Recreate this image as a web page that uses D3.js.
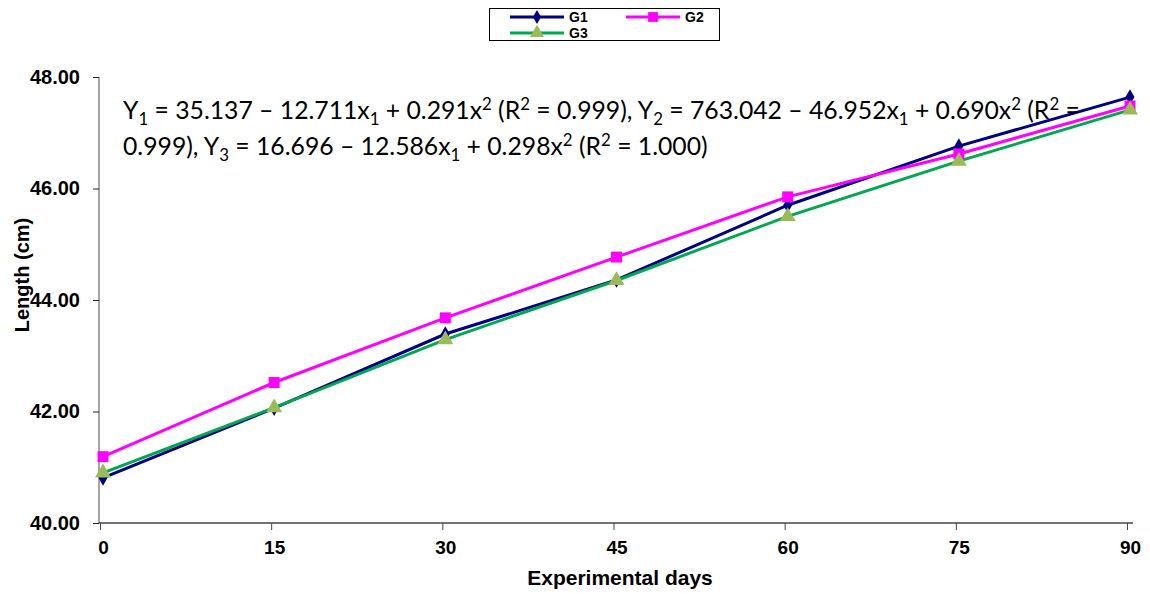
<!DOCTYPE html>
<html>
<head>
<meta charset="utf-8">
<script src="https://cdn.jsdelivr.net/npm/d3@7"></script>
<style>
  body { margin: 0; background: #fff; }
  svg { display: block; }
</style>
</head>
<body>
<svg id="chart"></svg>
<script>
const width = 1150;
const height = 594;

const days = [0, 15, 30, 45, 60, 75, 90];
const g1 = [40.81, 42.06, 43.39, 44.36, 45.70, 46.76, 47.64];
const g2 = [41.19, 42.52, 43.68, 44.77, 45.85, 46.62, 47.48];
const g3 = [40.90, 42.07, 43.29, 44.35, 45.50, 46.49, 47.41];
const seriesNames = ['G1', 'G2', 'G3'];
const yTicks = [40, 42, 44, 46, 48];

const series = [
  {name: seriesNames[0], values: g1, color: '#000080', marker: d3.symbolDiamond, size: 70, mcolor: '#000080'},
  {name: seriesNames[1], values: g2, color: '#FF00FF', marker: d3.symbolSquare, size: 120, mcolor: '#FF00FF'},
  {name: seriesNames[2], values: g3, color: '#00A650', marker: d3.symbolTriangle, size: 110, mcolor: '#9BBB59'}
];

const axisFont = '"Liberation Sans", Arial, sans-serif';
const svg = d3.select('#chart').attr('width', width).attr('height', height);

const x = d3.scaleLinear().domain([0, 90]).range([103, 1130]);
const y = d3.scaleLinear().domain([40, 48]).range([523, 77]);

// axes
const yAxis = svg.append('g').attr('transform', 'translate(99,0)')
  .call(d3.axisLeft(y).tickValues(yTicks).tickSize(6).tickFormat(d3.format('.2f')));
yAxis.select('.domain').attr('d', `M0,${y(48)}V${y(40)}`).attr('stroke', '#888').attr('stroke-width', 1.5);
yAxis.selectAll('.tick line').attr('stroke', '#222');
yAxis.selectAll('text')
  .attr('x', -19)
  .style('font-family', axisFont)
  .style('font-weight', 'bold')
  .style('font-size', '20px')
  .attr('fill', '#000');

const xAxis = svg.append('g').attr('transform', `translate(0,${y(40)})`)
  .call(d3.axisBottom(x).tickValues(days).tickSize(7).tickFormat(d3.format('d')));
xAxis.select('.domain').attr('d', 'M99,0H1133').attr('stroke', '#444').attr('stroke-width', 1.5);
xAxis.selectAll('.tick line').attr('transform', 'translate(-3,0)').attr('stroke', '#444');
xAxis.selectAll('text')
  .attr('y', 18)
  .style('font-family', axisFont)
  .style('font-weight', 'bold')
  .style('font-size', '19px')
  .attr('fill', '#000');

svg.append('text')
  .attr('x', 620).attr('y', 585)
  .attr('text-anchor', 'middle')
  .style('font-family', axisFont)
  .style('font-weight', 'bold')
  .style('font-size', '21px')
  .text('Experimental days');

svg.append('text')
  .attr('transform', 'translate(29,275) rotate(-90)')
  .attr('text-anchor', 'middle')
  .style('font-family', axisFont)
  .style('font-weight', 'bold')
  .style('font-size', '20px')
  .text('Length (cm)');

// lines
const line = d3.line().x((d, i) => x(days[i])).y(d => y(d));

series.forEach(s => {
  svg.append('path')
    .datum(s.values)
    .attr('fill', 'none')
    .attr('stroke', s.color)
    .attr('stroke-width', 3)
    .attr('d', line);
});

series.forEach(s => {
  svg.append('g').selectAll('path')
    .data(s.values)
    .enter()
    .append('path')
    .attr('transform', (d, i) => `translate(${x(days[i])},${y(d)})`)
    .attr('d', d3.symbol().type(s.marker).size(s.size))
    .attr('fill', s.mcolor);
});

// equation text
const eq = svg.append('g')
  .style('font-family', 'Lato, "Open Sans", sans-serif')
  .style('font-size', '22px')
  .attr('fill', '#000');

function addLine(yPos, parts) {
  const t = eq.append('text').attr('x', 123).attr('y', yPos);
  let back = 0;
  parts.forEach(p => {
    const span = t.append('tspan').text(p[0]);
    let dy = back;
    back = 0;
    if (p[1] === 'sub') { dy += 6; back = -6; span.style('font-size', '0.68em'); }
    if (p[1] === 'sup') { dy -= 9; back = 9; span.style('font-size', '0.68em'); }
    if (dy) span.attr('dy', dy);
  });
  return t;
}

const l1 = addLine(119, [
  ['Y'], ['1', 'sub'], [' = 35.137 \u2013 12.711x'], ['1', 'sub'], [' + 0.291x'], ['2', 'sup'],
  [' (R'], ['2', 'sup'], [' = 0.999), Y'], ['2', 'sub'], [' = 763.042 \u2013 46.952x'], ['1', 'sub'],
  [' + 0.690x'], ['2', 'sup'], [' (R'], ['2', 'sup'], [' =']
]);
addLine(155, [
  ['0.999), Y'], ['3', 'sub'], [' = 16.696 \u2013 12.586x'], ['1', 'sub'], [' + 0.298x'], ['2', 'sup'],
  [' (R'], ['2', 'sup'], [' = 1.000)']
]);
// fit the first line to its width in the picture
const w1 = l1.node().getComputedTextLength();
eq.style('font-size', (22 * 957 / w1).toFixed(2) + 'px');

// legend
const legend = svg.append('g');
legend.append('rect')
  .attr('x', 489.5).attr('y', 8.5).attr('width', 230).attr('height', 32)
  .attr('fill', '#fff').attr('stroke', '#000').attr('stroke-width', 1);

const legendPos = [[510, 17], [626, 17], [510, 33]];
series.forEach((s, i) => {
  const [lx, ly] = legendPos[i];
  legend.append('line')
    .attr('x1', lx).attr('x2', lx + 54).attr('y1', ly).attr('y2', ly)
    .attr('stroke', s.color).attr('stroke-width', 3);
  legend.append('path')
    .attr('transform', `translate(${lx + 27},${ly})`)
    .attr('d', d3.symbol().type(s.marker).size(s.size * 0.8))
    .attr('fill', s.mcolor);
  legend.append('text')
    .attr('x', lx + 59).attr('y', ly + 5)
    .style('font-family', axisFont)
    .style('font-weight', 'bold')
    .style('font-size', '14px')
    .text(s.name);
});
</script>
</body>
</html>
